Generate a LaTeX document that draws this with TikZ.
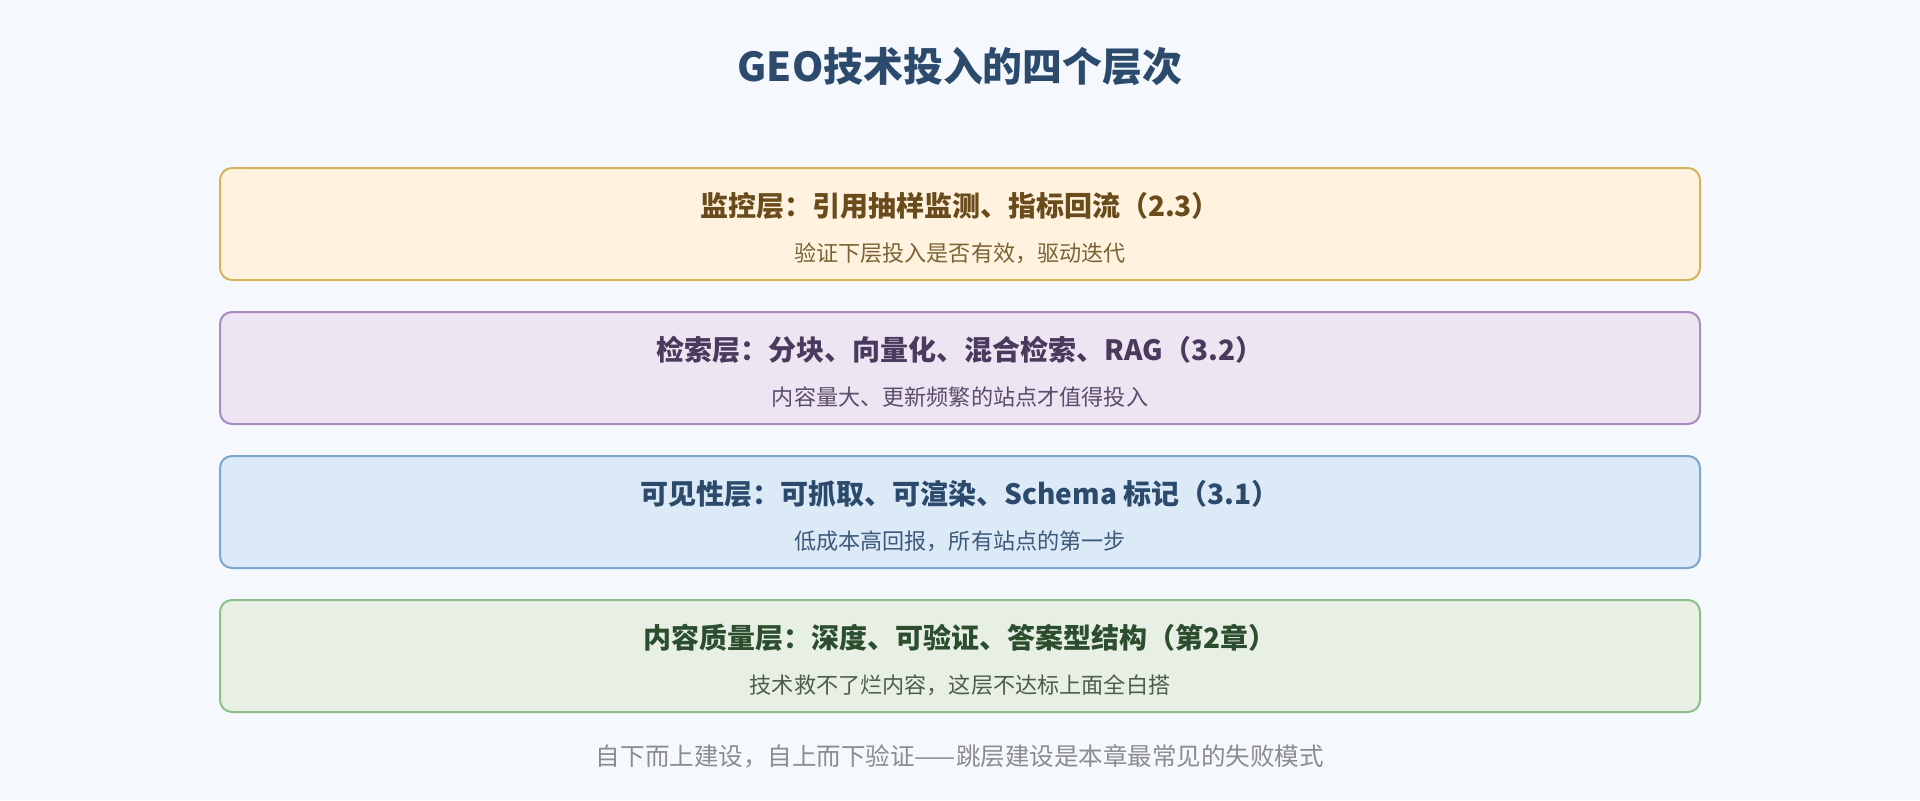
\documentclass[tikz,border=0pt]{standalone}
\usepackage{fontspec}
\setmainfont{Noto Sans CJK SC}
\newfontfamily\cjk{Noto Sans CJK SC}
\definecolor{bg}{HTML}{F5F9FD}
\definecolor{ttl}{HTML}{2B4A6C}
\definecolor{foot}{HTML}{8C8C8C}
\definecolor{fillA}{HTML}{FFF3E0}\definecolor{drawA}{HTML}{D8B35E}\definecolor{tA}{HTML}{6A4C1C}\definecolor{sA}{HTML}{7A6234}
\definecolor{fillB}{HTML}{EDE5F2}\definecolor{drawB}{HTML}{A88BC3}\definecolor{tB}{HTML}{4A3A5E}\definecolor{sB}{HTML}{5C4C6C}
\definecolor{fillC}{HTML}{DCEAF7}\definecolor{drawC}{HTML}{7BA6CD}\definecolor{tC}{HTML}{2B4A6C}\definecolor{sC}{HTML}{3E5A7A}
\definecolor{fillD}{HTML}{E8F0E6}\definecolor{drawD}{HTML}{8CBE88}\definecolor{tD}{HTML}{2C4E2E}\definecolor{sD}{HTML}{4C5E4A}
\tikzset{
  layer/.style={draw=#1, line width=1.5pt, rounded corners=9pt, minimum width=1110pt, minimum height=84pt, inner sep=0pt},
  ltitle/.style={inner sep=0pt, font=\cjk\bfseries\fontsize{21}{25}\selectfont, text=#1},
  lsub/.style={inner sep=0pt, font=\cjk\fontsize{16.6}{20}\selectfont, text=#1},
}
\begin{document}
\begin{tikzpicture}[x=0.75pt,y=-0.75pt]
\fill[bg] (0,0) rectangle (1920,800);
\useasboundingbox (0,0) rectangle (1920,800);
\node[inner sep=0pt, text=ttl, font=\cjk\bfseries\fontsize{29.9}{35}\selectfont] (title) at (960,67) {GEO技术投入的四个层次};
\node[layer=drawA, fill=fillA] (boxA) at (960,224) {};
\node[ltitle=tA] (tA) at (960,206) {监控层：引用抽样监测、指标回流（2.3）};
\node[lsub=sA] (sA) at (960,253) {验证下层投入是否有效，驱动迭代};
\node[layer=drawB, fill=fillB] (boxB) at (960,368) {};
\node[ltitle=tB] (tB) at (960,350) {检索层：分块、向量化、混合检索、RAG（3.2）};
\node[lsub=sB] (sB) at (960,397) {内容量大、更新频繁的站点才值得投入};
\node[layer=drawC, fill=fillC] (boxC) at (960,512) {};
\node[ltitle=tC] (tC) at (960,494) {可见性层：可抓取、可渲染、Schema 标记（3.1）};
\node[lsub=sC] (sC) at (960,541) {低成本高回报，所有站点的第一步};
\node[layer=drawD, fill=fillD] (boxD) at (960,656) {};
\node[ltitle=tD] (tD) at (960,638) {内容质量层：深度、可验证、答案型结构（第2章）};
\node[lsub=sD] (sD) at (960,685) {技术救不了烂内容，这层不达标上面全白搭};
\node[inner sep=0pt, text=foot, font=\cjk\fontsize{18.4}{22}\selectfont] (foot) at (960,756) {自下而上建设，自上而下验证——跳层建设是本章最常见的失败模式};
\end{tikzpicture}
\end{document}
